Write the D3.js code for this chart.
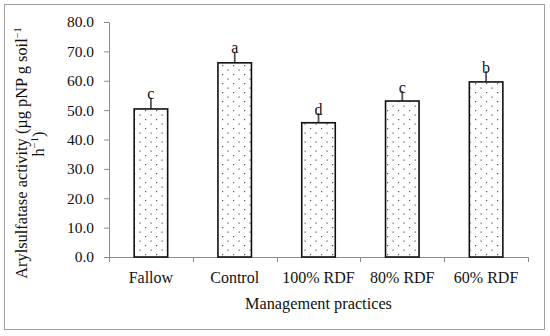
<!DOCTYPE html>
<html>
<head>
<meta charset="utf-8">
<script src="https://cdn.jsdelivr.net/npm/d3@7/dist/d3.min.js"></script>
<style>
  html, body { margin: 0; padding: 0; background: #fff; }
  svg text { font-family: "Liberation Serif", "Times New Roman", serif; fill: #111; }
</style>
</head>
<body>
<svg id="chart" width="550" height="336"></svg>
<script>
const categories = ["Fallow", "Control", "100% RDF", "80% RDF", "60% RDF"];
const values = [50.4, 66.1, 45.7, 53.1, 59.6];
const errors = [3.8, 3.7, 3.3, 3.4, 3.7];
const letters = ["c", "a", "d", "c", "b"];
const yTicks = [0, 10, 20, 30, 40, 50, 60, 70, 80];

const svg = d3.select("#chart");

// outer frame
svg.append("rect").attr("x", 4.5).attr("y", 4.5).attr("width", 540).attr("height", 325)
  .attr("fill", "#fff").attr("stroke", "#a0a0a0").attr("stroke-width", 1);

const plot = { left: 109, right: 528, top: 22, bottom: 257 };

const x = d3.scaleBand().domain(categories).range([plot.left, plot.right]).padding(0);
const y = d3.scaleLinear().domain([0, 80]).range([plot.bottom, plot.top]);

// pattern
const defs = svg.append("defs");
const pat = defs.append("pattern").attr("id", "dots").attr("patternUnits", "userSpaceOnUse")
  .attr("width", 11).attr("height", 9);
pat.append("rect").attr("width", 11).attr("height", 9).attr("fill", "#fff");
pat.append("rect").attr("x", 2).attr("y", 2).attr("width", 1.2).attr("height", 1.2).attr("fill", "#555");
pat.append("rect").attr("x", 7.5).attr("y", 6.5).attr("width", 1.2).attr("height", 1.2).attr("fill", "#555");

// y axis
const yAxis = d3.axisLeft(y).tickValues(yTicks).tickFormat(d3.format(".1f"))
  .tickSizeInner(5).tickSizeOuter(0).tickPadding(10);
const gy = svg.append("g").attr("transform", `translate(${plot.left},0)`).call(yAxis);
gy.select(".domain").attr("stroke", "#8c8c8c");
gy.selectAll(".tick line").attr("stroke", "#8c8c8c");
gy.selectAll(".tick text").attr("font-size", 15.5).attr("font-family", "Liberation Serif").attr("fill", "#111");

// x axis line and boundary ticks
svg.append("line").attr("x1", plot.left).attr("x2", plot.right)
  .attr("y1", y(0) + 0.5).attr("y2", y(0) + 0.5).attr("stroke", "#8c8c8c");
const edges = categories.map(c => x(c)).concat([x(categories[categories.length - 1]) + x.bandwidth()]);
svg.selectAll(".xtick").data(edges).enter().append("line")
  .attr("x1", d => Math.round(d) + 0.5).attr("x2", d => Math.round(d) + 0.5)
  .attr("y1", y(0)).attr("y2", y(0) + 5).attr("stroke", "#8c8c8c");

svg.selectAll(".xlabel").data(categories).enter().append("text")
  .attr("x", d => x(d) + x.bandwidth() / 2).attr("y", 283)
  .attr("text-anchor", "middle").attr("font-size", 16).text(d => d);

// bars
const barW = x.bandwidth() * 0.4;
const data = categories.map((c, i) => ({ c, v: values[i], e: errors[i], l: letters[i] }));

// error bars
svg.selectAll(".err").data(data).enter().append("line")
  .attr("x1", d => x(d.c) + x.bandwidth() / 2).attr("x2", d => x(d.c) + x.bandwidth() / 2)
  .attr("y1", d => y(d.v)).attr("y2", d => y(d.v + d.e))
  .attr("stroke", "#555").attr("stroke-width", 1.8);

svg.selectAll(".bar").data(data).enter().append("rect")
  .attr("x", d => x(d.c) + (x.bandwidth() - barW) / 2)
  .attr("y", d => y(d.v))
  .attr("width", barW)
  .attr("height", d => y(0) - y(d.v))
  .attr("fill", "url(#dots)").attr("stroke", "#111").attr("stroke-width", 1.6);

svg.selectAll(".letter").data(data).enter().append("text")
  .attr("x", d => x(d.c) + x.bandwidth() / 2).attr("y", d => y(d.v + d.e) + 1.5)
  .attr("text-anchor", "middle").attr("font-size", 16).text(d => d.l);

// x title
svg.append("text").attr("x", (plot.left + plot.right) / 2).attr("y", 309)
  .attr("text-anchor", "middle").attr("font-size", 16.3).text("Management practices");

// y title
const t1 = svg.append("text").attr("transform", "translate(27,153) rotate(-90)")
  .attr("text-anchor", "middle").attr("font-size", 16.4);
t1.append("tspan").text("Arylsulfatase activity (µg pNP g soil");
t1.append("tspan").attr("font-size", 10.5).attr("dy", -6).text("−1");
const t2 = svg.append("text").attr("transform", "translate(44,144) rotate(-90)")
  .attr("text-anchor", "middle").attr("font-size", 16.4);
t2.append("tspan").text("h");
t2.append("tspan").attr("font-size", 10.5).attr("dy", -6).text("−1");
t2.append("tspan").attr("dy", 6).text(")");
</script>
</body>
</html>
